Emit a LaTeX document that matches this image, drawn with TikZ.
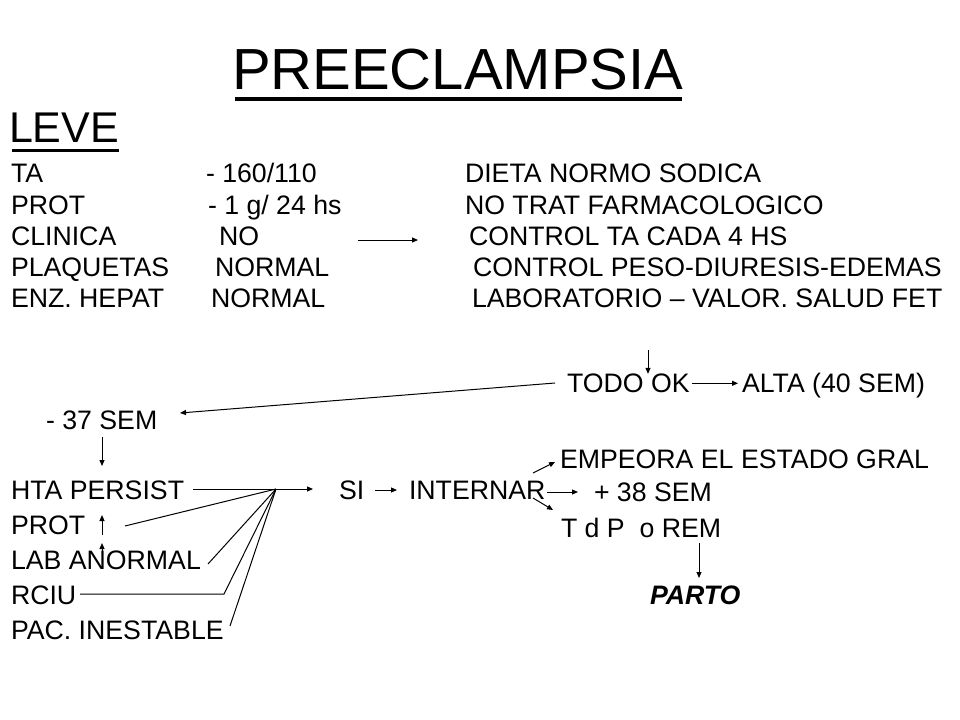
\documentclass[tikz,border=0pt]{standalone}
\usepackage{fontspec}
\setmainfont{Liberation Sans}
\usetikzlibrary{arrows.meta}
\begin{document}
\begin{tikzpicture}[x=1bp,y=-1bp,
  txt/.style={anchor=base west,inner sep=0pt,outer sep=0pt,font=\fontsize{26.7bp}{32bp}\selectfont},
  ttl/.style={anchor=base west,inner sep=0pt,outer sep=0pt,font=\fontsize{58bp}{68bp}\selectfont},
  sub/.style={anchor=base west,inner sep=0pt,outer sep=0pt,font=\fontsize{43bp}{50bp}\selectfont},
  arr/.style={line width=1bp,-{Triangle[length=6bp,width=5bp]}},
  ln/.style={line width=1bp},
  uline/.style={line width=3.5bp}]
\fill[white] (0,0) rectangle (960,720);
\useasboundingbox (0,0) rectangle (960,720);

% title
\node[ttl] (title) at (232,90) {PREECLAMPSIA};
\draw[uline] ([xshift=3bp,yshift=-9bp]title.base west) -- ([xshift=-1bp,yshift=-9bp]title.base east);
\node[sub] (leve) at (9,143) {LEVE};
\draw[uline,line width=3bp] ([xshift=3bp,yshift=-8bp]leve.base west) -- ([yshift=-8bp]leve.base east);

% left column
\node[txt] (ta)   at (11,183) {TA};
\node[txt] (prot) at (11,214) {PROT};
\node[txt] (clin) at (11,245) {CLINICA};
\node[txt] (plaq) at (11,276) {PLAQUETAS};
\node[txt] (enz)  at (11,307) {ENZ. HEPAT};
% values
\node[txt] (v1) at (206,183) {- 160/110};
\node[txt] (v2) at (208,214) {- 1 g/ 24 hs};
\node[txt] (v3) at (219,245) {NO};
\node[txt] (v4) at (215,276) {NORMAL};
\node[txt] (v5) at (211,307) {NORMAL};
% right column
\node[txt] (r1) at (465,183) {DIETA NORMO SODICA};
\node[txt] (r2) at (465,214) {NO TRAT FARMACOLOGICO};
\node[txt] (r3) at (469,245) {CONTROL TA CADA 4 HS};
\node[txt] (r4) at (473,276) {CONTROL PESO-DIURESIS-EDEMAS};
\node[txt] (r5) at (472,307) {LABORATORIO – VALOR. SALUD FET};

\coordinate (a3s) at (358,240);
\coordinate (a3e) at (418,240);
\draw[arr] (a3s) -- (a3e);

% lower part
\node[txt] (todo) at (567,392.5) {TODO OK};
\node[txt] (alta) at (742,392.5) {ALTA (40 SEM)};
\coordinate (d1) at (648,350);
\draw[arr] (d1) -- (d1 |- todo.north);
\draw[arr,shorten <=2bp,shorten >=4bp] (todo.east) -- (todo.east -| alta.west);

\node[txt] (sem37) at (46,429.5) {- 37 SEM};
\coordinate (lstart) at (555,383);
\coordinate (lend) at (180,413);
\draw[arr] (lstart) -- (lend);

\node[txt] (hta)   at (11,499.5) {HTA PERSIST};
\node[txt] (protb) at (11,534.5) {PROT};
\node[txt] (lab)   at (11,569.5) {LAB ANORMAL};
\node[txt] (rciu)  at (11,604.5) {RCIU};
\node[txt] (pac)   at (11,639.5) {PAC. INESTABLE};

\coordinate (s37a) at (102,437);
\coordinate (s37b) at (102,466);
\draw[arr] (s37a) -- (s37b);

\coordinate (u1a) at (102,535);
\coordinate (u1b) at (102,515);
\draw[arr] (u1a) -- (u1b);
\coordinate (u2a) at (102,561);
\coordinate (u2b) at (102,543);
\draw[arr] (u2a) -- (u2b);

\coordinate (hs) at (193,489);
\coordinate (J) at (276,489);
\coordinate (he) at (313,489);
\draw[arr] (hs) -- (he);
\coordinate (pj) at (125,526);
\coordinate (lj) at (208,564);
\coordinate (rj1) at (80,594);
\coordinate (rj2) at (224,594);
\coordinate (pcj) at (230,626);
\draw[ln] (pj) -- (J);
\draw[ln] (lj) -- (J);
\draw[ln] (rj1) -- (rj2) -- (J);
\draw[ln] (pcj) -- (J);

\node[txt] (si) at (339,499.5) {SI};
\node[txt] (intern) at (409,499.5) {INTERNAR};
\coordinate (sia) at (375,490);
\coordinate (sib) at (397,490);
\draw[arr] (sia) -- (sib);

\node[txt] (emp) at (560,468) {EMPEORA EL ESTADO GRAL};
\node[txt] (sem38) at (594,501) {+ 38 SEM};
\node[txt] (tdp) at (561,537.5) {T d P\ \ o REM};
\node[txt,font=\fontsize{26.7bp}{32bp}\selectfont\bfseries\itshape] (parto) at (650,604.5) {PARTO};

\coordinate (ia) at (547,492);
\coordinate (ib) at (578,492);
\draw[arr] (ia) -- (ib);
\coordinate (iu1) at (533,473);
\coordinate (iu2) at (555,462);
\draw[arr] (iu1) -- (iu2);
\coordinate (id1) at (533,498);
\coordinate (id2) at (553,510);
\draw[arr] (id1) -- (id2);
\coordinate (ta1) at (699,543);
\coordinate (ta2) at (699,578);
\draw[arr] (ta1) -- (ta2);
\end{tikzpicture}
\end{document}
